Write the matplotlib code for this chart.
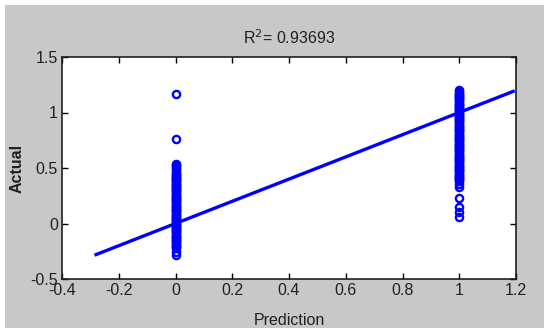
import matplotlib.pyplot as plt
from matplotlib.patches import Rectangle
from matplotlib.ticker import FuncFormatter

# values (columns are packed, so listed finely)
actual_at_0 = [1.17, 0.76, 0.54, 0.53, 0.52, 0.50, 0.48, 0.46,
               0.45, 0.44, 0.43, 0.42, 0.41, 0.40, 0.39, 0.38, 0.37, 0.36,
               0.35, 0.34, 0.33, 0.32, 0.31, 0.30, 0.29, 0.28, 0.27, 0.26,
               0.25, 0.24, 0.23, 0.22, 0.21, 0.20, 0.19, 0.18, 0.17, 0.16,
               0.15, 0.14, 0.13, 0.12, 0.11, 0.10, 0.09, 0.08, 0.07, 0.06,
               0.05, 0.04, 0.03, 0.02, 0.01, 0.00, -0.01, -0.02, -0.03, -0.04,
               -0.05, -0.06, -0.07, -0.08, -0.09, -0.10, -0.11, -0.12, -0.13,
               -0.14, -0.15, -0.16, -0.17, -0.18, -0.19, -0.20, -0.21, -0.22,
               -0.26, -0.28]
actual_at_1 = [1.20, 1.19, 1.18, 1.17, 1.16, 1.15, 1.14, 1.13, 1.12, 1.11,
               1.10, 1.09, 1.08, 1.07, 1.06, 1.05, 1.04, 1.03, 1.02, 1.01,
               1.00, 0.99, 0.98, 0.97, 0.96, 0.95, 0.94, 0.93, 0.92, 0.91,
               0.90, 0.89, 0.88, 0.87, 0.86, 0.85, 0.84, 0.83, 0.82, 0.81,
               0.80, 0.79, 0.78, 0.77, 0.76, 0.75, 0.74, 0.73, 0.72, 0.71,
               0.70, 0.69, 0.68, 0.67, 0.66, 0.65, 0.64, 0.63, 0.62, 0.61,
               0.60, 0.59, 0.58, 0.57, 0.56, 0.55, 0.54, 0.53, 0.52, 0.51,
               0.50, 0.49, 0.48, 0.47, 0.46, 0.45, 0.44, 0.43, 0.42, 0.41,
               0.40, 0.39, 0.38, 0.36, 0.33, 0.23, 0.15, 0.10, 0.06]
fit_x = [-0.28, 1.19]
fit_y = [-0.28, 1.19]
r2 = 0.93693

xticks = [-0.4, -0.2, 0, 0.2, 0.4, 0.6, 0.8, 1, 1.2]
yticks = [-0.5, 0, 0.5, 1, 1.5]

plt.rcParams['font.family'] = ['Liberation Sans', 'DejaVu Sans']
plt.rcParams['font.size'] = 10

fig = plt.figure(figsize=(5.5, 3.33), dpi=100)
fig.patch.set_facecolor('white')
bg = Rectangle((5 / 550, 1 - 328 / 333), 539 / 550, 323 / 333,
               transform=fig.transFigure, facecolor='#c8c8c8',
               edgecolor='none', zorder=-10)
fig.patches.append(bg)

ax = fig.add_axes([62 / 550, 1 - 279 / 333, 454 / 550, 222 / 333])
ax.set_zorder(1)
ax.set_facecolor('white')

# the packed runs read as a solid bar, the stray ones stay open circles
ax.plot(fit_x, fit_y, '-', color='#0000ff', lw=2.4, zorder=3)
ax.plot([0] * len(actual_at_0), actual_at_0, 'o', mfc='none', mec='#0000ff',
        ms=5.2, mew=1.7, zorder=2)
ax.plot([1] * len(actual_at_1), actual_at_1, 'o', mfc='none', mec='#0000ff',
        ms=5.2, mew=1.7, zorder=2)

ax.set_xlim(-0.4, 1.2)
ax.set_ylim(-0.5, 1.5)
ax.set_xticks(xticks)
ax.set_yticks(yticks)
fmt = FuncFormatter(lambda v, p: '%g' % v)
ax.xaxis.set_major_formatter(fmt)
ax.yaxis.set_major_formatter(fmt)
ax.tick_params(direction='in', top=True, right=True, length=4, width=1,
               labelsize=11.5, pad=3, labelcolor='#202020')
for s in ax.spines.values():
    s.set_linewidth(1.2)
    s.set_color('#202020')

ax.set_title('R$^2$= %.5f' % r2, fontsize=11.5, pad=9, color='#202020')
ax.set_xlabel('Prediction', fontsize=11.5, labelpad=11, color='#202020')
ax.set_ylabel('Actual', fontsize=11.5, labelpad=4, color='#202020',
              fontweight='bold')

fig.savefig('out.png', dpi=100, facecolor='white')
